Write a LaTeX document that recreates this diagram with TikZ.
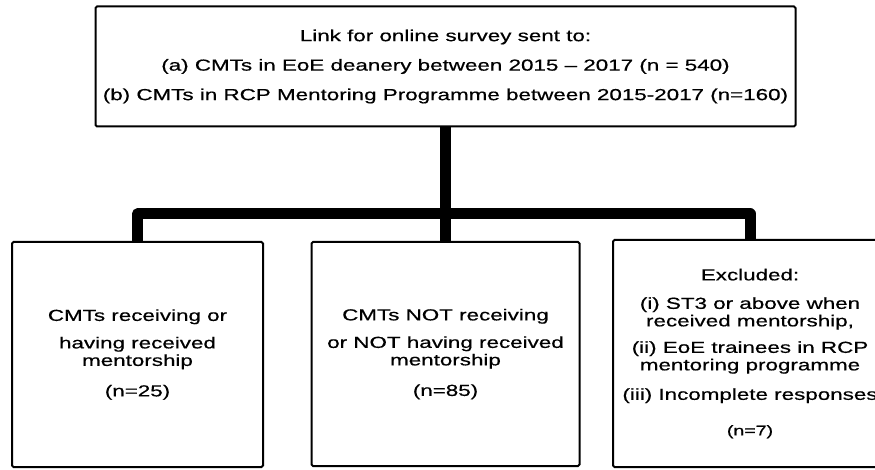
\documentclass[tikz,border=0pt]{standalone}
\usepackage{fontspec}
\setmainfont{Liberation Sans}
\newfontfamily\wf[FakeStretch=1.4,FakeBold=0.6]{Liberation Sans}
\begin{document}
\begin{tikzpicture}[x=1pt,y=-1pt,
  box/.style={draw, line width=2pt, rounded corners=1.5pt, align=center,
    font=\wf\fontsize{16}{17.5}\selectfont, inner sep=0pt},
  conn/.style={line width=11pt, line join=round, line cap=butt}]
\useasboundingbox (0,0) rectangle (875,470);
\clip (0,0) rectangle (875,470);
\node[box, minimum width=700pt, minimum height=120pt] (top) at (445.5,66.5)
  {Link for online survey sent to:\\[12pt]
   (a) CMTs in EoE deanery between 2015 – 2017 (n = 540)\\[12pt]
   (b) CMTs in RCP Mentoring Programme between 2015-2017 (n=160)};
\node[box, minimum width=251pt, minimum height=225pt] (left) at (137.5,354.5)
  {CMTs receiving or\\[10pt]
   having received\\ mentorship\\[13pt]
   (n=25)};
\node[box, minimum width=268pt, minimum height=224pt] (mid) at (445.5,354)
  {CMTs NOT receiving\\[10pt]
   or NOT having received\\ mentorship\\[13pt]
   (n=85)};
\node[box, minimum width=274pt, minimum height=227pt] (right) at (750,353.5)
  {Excluded:\\[11pt]
   (i) ST3 or above when\\ received mentorship,\\[9pt]
   (ii) EoE trainees in RCP\\ mentoring programme\\[12pt]
   (iii) Incomplete responses\\[18pt]
   {\fontsize{14}{16}\selectfont (n=7)}};
\coordinate (bar) at (445.5,214);
\draw[conn] (top.south) -- (bar);
\draw[conn] (left.north) -- (left.north |- bar) -- (right.north |- bar) -- (right.north);
\draw[conn] (bar) -- (mid.north);
\end{tikzpicture}
\end{document}
